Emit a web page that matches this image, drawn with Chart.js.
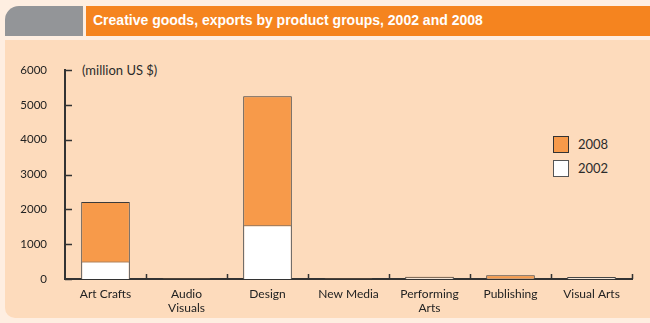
<!DOCTYPE html>
<html>
<head>
<meta charset="utf-8">
<script src="https://cdn.jsdelivr.net/npm/chart.js@4.4.0/dist/chart.umd.min.js"></script>
<style>
  html, body { margin: 0; padding: 0; }
  body { width: 650px; height: 323px; background: #feeee1; position: relative; overflow: hidden; font-family: Lato, "Open Sans", sans-serif; }
  #tab { position: absolute; left: 5px; top: 6px; width: 78px; height: 30px; background: #939598; border-top-left-radius: 14px; }
  #header { position: absolute; left: 86px; top: 6px; width: 564px; height: 30px; background: #f5841f; }
  #header span { position: absolute; left: 7px; top: 6px; color: #fff; font: bold 14px "Liberation Sans Narrow", "Liberation Sans", Arial, sans-serif; white-space: nowrap; }
  #panel { position: absolute; left: 5px; top: 40px; width: 645px; height: 278px; background: #fddbbc; border-bottom-left-radius: 10px; }
  #unit { position: absolute; left: 82px; top: 62px; font-size: 13px; color: #2b2b2b; }
  #legend { position: absolute; left: 553px; top: 136px; font-size: 13px; color: #2b2b2b; }
  .item { position: relative; height: 24px; }
  .box { position: absolute; left: 0; top: 0; width: 14px; height: 15px; border: 1px solid #333; }
  .item span { position: absolute; left: 25px; top: 0px; }
  canvas { position: absolute; left: 0; top: 0; }
</style>
</head>
<body>
<div id="tab"></div>
<div id="header"><span>Creative goods, exports by product groups, 2002 and 2008</span></div>
<div id="panel"></div>
<div id="unit">(million US $)</div>
<div id="legend">
  <div class="item"><div class="box" style="background:#f79a4a"></div><span>2008</span></div>
  <div class="item"><div class="box" style="background:#ffffff; border-color:#555"></div><span>2002</span></div>
</div>
<canvas id="chart" width="650" height="323"></canvas>
<script>
const categories = [["Art Crafts"], ["Audio", "Visuals"], ["Design"], ["New Media"], ["Performing", "Arts"], ["Publishing"], ["Visual Arts"]];
const exports2002 = [500, 5, 1540, 4, 40, 20, 45];
const exports2008 = [2210, 15, 5250, 12, 65, 110, 60];
const yTicks = [0, 1000, 2000, 3000, 4000, 5000, 6000];

// inward tick marks on both axes
const tickMarks = {
  id: "tickMarks",
  afterDraw(chart) {
    const ctx = chart.ctx;
    const x = chart.scales.x, y = chart.scales.y;
    const area = chart.chartArea;
    ctx.save();
    ctx.strokeStyle = "#333";
    ctx.lineWidth = 1.5;
    ctx.beginPath();
    yTicks.forEach(v => {
      const py = Math.round(y.getPixelForValue(v)) + 0.5;
      ctx.moveTo(area.left, py);
      ctx.lineTo(area.left + 7, py);
    });
    for (let i = 1; i <= categories.length; i++) {
      const px = i < categories.length
        ? (x.getPixelForValue(i - 1) + x.getPixelForValue(i)) / 2
        : area.right;
      ctx.moveTo(Math.round(px) + 0.5, area.bottom);
      ctx.lineTo(Math.round(px) + 0.5, area.bottom - 5);
    }
    ctx.stroke();
    ctx.restore();
  }
};

new Chart(document.getElementById("chart"), {
  type: "bar",
  data: {
    labels: categories,
    datasets: [
      {
        label: "2002",
        data: exports2002,
        backgroundColor: "#ffffff",
        borderColor: "#6b6b6b",
        borderWidth: 1,
        grouped: false,
        barPercentage: 0.6,
        categoryPercentage: 1
      },
      {
        label: "2008",
        data: exports2008,
        backgroundColor: "#f79a4a",
        borderColor: "#3a3a3a",
        borderWidth: 1,
        grouped: false,
        barPercentage: 0.6,
        categoryPercentage: 1
      }
    ]
  },
  options: {
    responsive: false,
    animation: false,
    layout: { padding: { left: 0, top: 70, right: 18, bottom: 0 } },
    plugins: { legend: { display: false }, tooltip: { enabled: false } },
    scales: {
      x: {
        grid: { display: false },
        border: { display: true, color: "#333", width: 2 },
        ticks: { color: "#222", font: { family: "Lato", size: 12, lineHeight: 1.1 }, padding: 1, maxRotation: 0, autoSkip: false },
        afterFit(scale) { scale.height = 44; }
      },
      y: {
        min: 0,
        max: 6000,
        afterBuildTicks(scale) { scale.ticks = yTicks.map(v => ({ value: v })); },
        grid: { display: false },
        border: { display: true, color: "#333", width: 2 },
        ticks: { color: "#222", font: { family: "Lato", size: 11.5 }, padding: 10, callback: v => String(v) },
        afterFit(scale) { scale.width = 65; }
      }
    }
  },
  plugins: [tickMarks]
});
</script>
</body>
</html>
